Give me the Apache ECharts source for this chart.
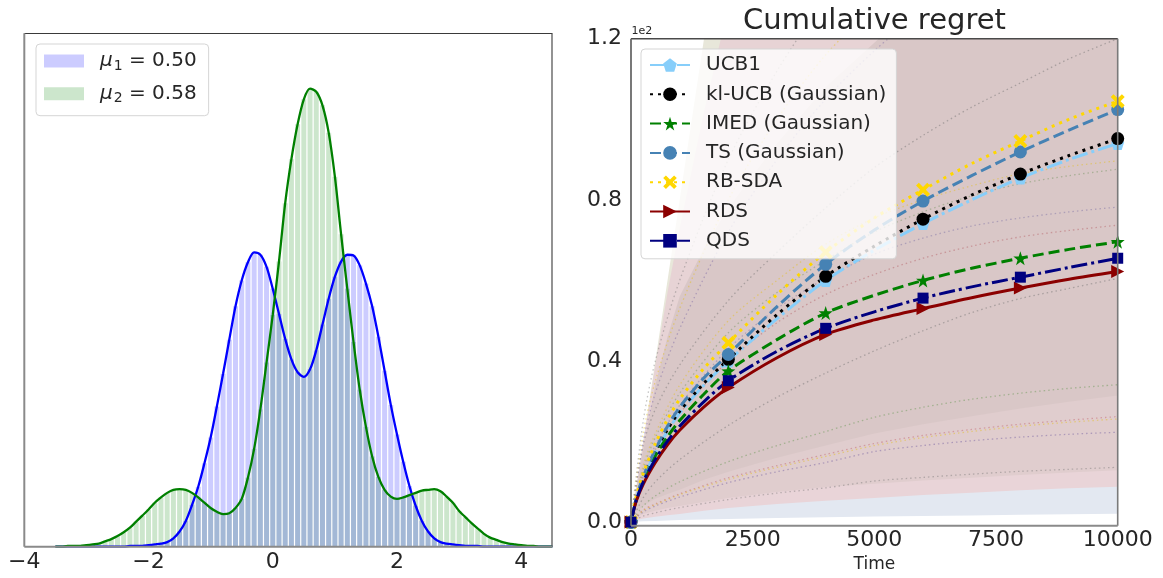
<!DOCTYPE html>
<html><head><meta charset="utf-8">
<script src="https://cdn.jsdelivr.net/npm/echarts@6/dist/echarts.min.js"></script>
<style>html,body{margin:0;padding:0;background:#fff}#c{width:1163px;height:578px}</style>
</head><body><div id="c"></div>
<script>
// ---------- Left panel: densities (histogram + KDE) ----------
const kdeX = [-3.5,-3.4,-3.3,-3.2,-3.1,-3.0,-2.9,-2.8,-2.7,-2.6,
  -2.5,-2.4,-2.3,-2.2,-2.1,-2.0,-1.9,-1.8,-1.7,-1.6,
  -1.5,-1.4,-1.3,-1.2,-1.1,-1.0,-0.9,-0.8,-0.7,-0.6,
  -0.5,-0.4,-0.3,-0.2,-0.1,0.0,0.1,0.2,0.3,0.4,
  0.5,0.6,0.7,0.8,0.9,1.0,1.1,1.2,1.3,1.4,
  1.5,1.6,1.7,1.8,1.9,2.0,2.1,2.2,2.3,2.4,
  2.5,2.6,2.7,2.8,2.9,3.0,3.1,3.2,3.3,3.4,
  3.5,3.6,3.7,3.8,3.9,4.0,4.1,4.2,4.3,4.4,4.5];
const densityArm1 = [0,0,0,0,0,0,0,0,0,0,
  0,0,0.001,0.001,0.001,0.002,0.003,0.004,0.006,0.011,
  0.020,0.034,0.055,0.079,0.110,0.144,0.185,0.228,0.273,0.317,
  0.351,0.375,0.388,0.385,0.369,0.340,0.307,0.274,0.247,0.230,
  0.224,0.234,0.259,0.293,0.327,0.356,0.376,0.385,0.384,0.371,
  0.347,0.317,0.277,0.232,0.187,0.148,0.112,0.080,0.054,0.034,
  0.020,0.011,0.006,0.004,0.003,0.002,0.001,0.001,0.001,0,
  0,0,0,0,0,0,0,0,0,0,0];
const densityArm2 = [0,0,0.001,0.001,0.001,0.002,0.003,0.004,0.007,0.010,
  0.014,0.019,0.025,0.033,0.041,0.049,0.058,0.065,0.071,0.075,
  0.076,0.075,0.071,0.065,0.058,0.051,0.046,0.043,0.044,0.051,
  0.063,0.091,0.129,0.181,0.243,0.306,0.376,0.453,0.511,0.557,
  0.590,0.604,0.600,0.582,0.546,0.488,0.412,0.340,0.270,0.207,
  0.158,0.119,0.092,0.075,0.066,0.063,0.065,0.068,0.071,0.074,
  0.075,0.076,0.073,0.066,0.058,0.047,0.039,0.031,0.024,0.017,
  0.012,0.009,0.006,0.004,0.003,0.002,0.001,0.001,0,0,0];
const leftTicks = [-4,-2,0,2,4];

// ---------- Right panel: cumulative regret (raw units, axis shows x1e2) ----------
const T = [0,100,250,500,750,1000,1500,2000,3000,4000,5000,6000,7000,8000,9000,10000];
const markerT = [0,2000,4000,6000,8000,10000];
const ucb1  = [0,5.4,10.8,17.2,22.6,27.0,34.0,40.0,50.5,60.0,67.5,74.1,80.0,85.4,90.0,94.0];
const klucb = [0,5.5,11.0,17.5,23.0,27.5,34.5,40.4,51.5,61.0,68.5,75.2,81.2,86.4,91.0,95.2];
const imed  = [0,5.2,10.3,16.4,21.2,25.2,31.8,37.5,45.3,51.9,56.3,60.0,63.0,65.5,67.7,69.6];
const ts    = [0,5.6,11.2,18.0,23.8,28.5,35.8,41.6,53.5,64.0,72.5,79.7,86.0,91.9,97.3,102.4];
const rbsda = [0,6.0,12.0,19.5,25.5,30.5,38.2,44.5,56.5,67.0,75.5,82.5,89.0,94.6,100.0,104.5];
const rds   = [0,4.9,9.4,14.8,19.2,22.8,28.6,33.4,40.8,46.6,50.2,53.0,55.7,58.1,60.3,62.2];
const qds   = [0,5.1,9.9,15.6,20.1,23.8,29.9,35.1,42.4,48.1,52.2,55.6,58.4,60.8,63.2,65.5];

// shaded region boundaries (bottom to top), same time grid T
const bandB0 = [0,0.1,0.2,0.3,0.4,0.5,0.65,0.8,1.0,1.2,1.4,1.5,1.65,1.8,1.95,2.1];
const bandB1 = [0,0.5,0.9,1.3,1.7,2.0,2.8,3.5,4.5,5.3,6.0,6.7,7.3,7.9,8.4,8.8];
const bandB2 = [0,1.2,2.0,2.8,3.5,4.0,5.0,6.0,7.5,8.7,9.5,10.3,11.0,11.7,12.3,12.9];
const bandB3 = [0,2.5,4.0,5.8,7.0,8.0,10.5,12.5,16.0,19.0,22.0,24.3,26.3,28.2,29.9,31.4];
const bandB4 = [0,7,18,34,46,56,68,78,94,108,119,130,140,150,160,170];
const bandB5 = [0,7.8,19.5,39,57,73,102,128,170,210,250,290,330,370,410,450];
const bandB6 = [0,8,20,40,60,80,120,160,240,320,400,480,560,640,720,800];

// faint dotted quantile lines
const T2 = [0,250,500,1000,2000,3000,4000,5000,6000,7000,8000,9000,10000];
const qGray1   = [0,19,28,39,55,67,78,88,96,103,109,115,120];
const qGold1   = [0,14,22,34,50,60,69,75.5,80,83.5,86.5,88.3,89.7];
const qOlive1  = [0,13,21,32,47,57,65,72,77,81,84,86,87.6];
const qPurple1 = [0,12,19,29,43,53,60.5,66.5,70.5,73.5,75.5,77,78.2];
const qRed1    = [0,11,18,27,40,49.5,56.5,61.5,65.5,68.5,70.8,72.4,73.7];
const qGray2   = [0,6,10,15.5,24,31,37,42.5,47.5,52,55.5,58,60.5];
const qOlive2  = [0,4,6.5,10,15,19,22.5,26,28.5,30.5,32,33.2,34.1];
const qRed2    = [0,3,4.5,7,11,14,16.8,19.5,21.5,23,24.3,25.3,26.2];
const qGold2   = [0,2.8,4.3,6.8,10.6,13.6,16.3,19,21,22.5,23.8,24.8,25.6];
const qPurple2 = [0,2.5,4,6.2,9.8,12.5,14.8,17.5,19,20.2,21.1,21.8,22.3];
const qGray3   = [0,1.5,2.3,3.6,5.6,7.2,8.5,10.2,11.1,11.9,12.6,13.1,13.6];
const qSteepGray   = [0,25,40,60,90,112,130,145,158,170,180,190,200];
const qSteepGold   = [0,22,35,53,80,100,116,128,140,150,158,166,173];
const qSteepPurple = [0,20,32,48,72,90,105,117,127,136,144,151,158];

// ---------- build ----------
const FONT = 'DejaVu Sans';
const TXT = '#262626';
const chart = echarts.init(document.getElementById('c'), null, {renderer: 'canvas'});

const SYM = {
  pentagon: 'path://M50,0 L97.6,34.5 L79.4,90.5 L20.6,90.5 L2.4,34.5 Z',
  star: 'path://M50,0 L61.8,35.1 L98.9,35.5 L69.1,57.6 L80.2,93 L50,71.5 L19.8,93 L30.9,57.6 L1.1,35.5 L38.2,35.1 Z',
  xfill: 'path://M20,0 L50,30 L80,0 L100,20 L70,50 L100,80 L80,100 L50,70 L20,100 L0,80 L30,50 L0,20 Z',
  tri: 'path://M0,0 L100,50 L0,100 Z'
};

const series = [];
// left: histogram + kde
function hist(name, vals, color) {
  return {type: 'bar', name, xAxisIndex: 0, yAxisIndex: 0, barWidth: 5, barGap: '-100%',
    itemStyle: {color}, data: kdeX.map((x, i) => [x, vals[i]]), silent: true};
}
function kde(vals, color) {
  return {type: 'line', xAxisIndex: 0, yAxisIndex: 0, smooth: 0.3, symbol: 'none',
    lineStyle: {color, width: 2.3}, data: kdeX.map((x, i) => [x, vals[i]]), silent: true};
}
series.push(hist('mu2', densityArm2, 'rgba(0,128,0,0.2)'));
series.push(hist('mu1', densityArm1, 'rgba(0,0,255,0.2)'));
series.push(kde(densityArm1, '#0000ff'));
series.push(kde(densityArm2, '#008000'));

// right: shaded regions, each filled from 0 up to its top boundary, outermost first
const regionTops = [bandB6, bandB5, bandB4, bandB3, bandB2, bandB1, bandB0];
const regionColors = ['#e8e7da', '#e7d3d5', '#d9c7c7', '#e0cdce', '#e9d4d8', '#e3e8f1', '#ffffff'];
regionTops.forEach((b, k) => {
  series.push({type: 'line', xAxisIndex: 1, yAxisIndex: 1, symbol: 'none', z: 1 + k,
    silent: true, lineStyle: {width: 0, opacity: 0},
    areaStyle: {color: regionColors[k], opacity: 1, origin: 'start'},
    data: T.map((t, i) => [t, b[i]])});
});

// faint dotted lines
const faint = [
  [qGray1, 'rgba(110,110,110,0.45)'], [qGold1, 'rgba(230,190,0,0.4)'], [qOlive1, 'rgba(100,140,80,0.4)'],
  [qPurple1, 'rgba(110,100,160,0.4)'], [qRed1, 'rgba(170,60,70,0.35)'], [qGray2, 'rgba(110,110,110,0.45)'],
  [qOlive2, 'rgba(100,150,80,0.45)'], [qRed2, 'rgba(190,80,90,0.4)'], [qGold2, 'rgba(230,190,0,0.4)'],
  [qPurple2, 'rgba(110,90,160,0.45)'], [qGray3, 'rgba(110,110,110,0.4)'],
  [qSteepGray, 'rgba(110,110,110,0.4)'], [qSteepGold, 'rgba(230,190,0,0.4)'], [qSteepPurple, 'rgba(110,90,160,0.4)']
];
faint.forEach(([vals, color]) => {
  series.push({type: 'line', xAxisIndex: 1, yAxisIndex: 1, symbol: 'none', smooth: 0.3, z: 10, silent: true,
    lineStyle: {color, width: 1.3, type: [1.5, 3]}, data: T2.map((t, i) => [t, vals[i]])});
});

// main lines
function main(name, vals, color, dash, symbol, size) {
  return {type: 'line', name, xAxisIndex: 1, yAxisIndex: 1, z: 11, smooth: 0.3,
    symbol, symbolSize: size, showSymbol: true, showAllSymbol: true,
    itemStyle: {color, opacity: 1}, lineStyle: {color, width: 3, type: dash},
    data: T.map((t, i) => markerT.includes(t) ? {value: [t, vals[i]]} : {value: [t, vals[i]], symbol: 'none'})};
}
series.push(main('UCB1', ucb1, '#87cefa', [16, 4, 3, 4], SYM.pentagon, 13));
series.push(main('kl-UCB (Gaussian)', klucb, '#000000', [3, 5], 'circle', 13));
series.push(main('IMED (Gaussian)', imed, '#008000', [11, 5], SYM.star, 14));
series.push(main('TS (Gaussian)', ts, '#4682b4', [11, 5], 'circle', 13));
series.push(main('RB-SDA', rbsda, '#ffd700', [3, 5], SYM.xfill, 14));
series.push(main('RDS', rds, '#8b0000', 'solid', SYM.tri, 13));
series.push(main('QDS', qds, '#000080', [16, 4, 3, 4], 'rect', 11));

const axisLabelStyle = {fontFamily: FONT, fontSize: 22, color: TXT};

function spine(x1, y1, x2, y2, color, w) {
  return {type: 'line', z: 50, silent: true, shape: {x1, y1, x2, y2}, style: {stroke: color, lineWidth: w}};
}

const option = {
  animation: false,
  backgroundColor: '#ffffff',
  textStyle: {fontFamily: FONT},
  grid: [
    {left: 24.3, top: 33.3, width: 528, height: 513.4},
    {left: 631, top: 38.7, width: 486.7, height: 487}
  ],
  xAxis: [
    {type: 'value', gridIndex: 0, min: -4, max: 4.5, interval: 2,
      axisLine: {show: false}, axisTick: {show: false}, splitLine: {show: false},
      axisLabel: Object.assign({margin: 5, showMaxLabel: false,
        formatter: v => leftTicks.includes(v) ? String(v).replace('-', '\u2212') : ''}, axisLabelStyle)},
    {type: 'value', gridIndex: 1, min: 0, max: 10000, interval: 2500,
      axisLine: {show: false}, axisTick: {show: false}, splitLine: {show: false},
      name: 'Time', nameLocation: 'middle', nameGap: 32,
      nameTextStyle: {fontFamily: FONT, fontSize: 17, color: TXT},
      axisLabel: Object.assign({margin: 7, formatter: v => String(v)}, axisLabelStyle)}
  ],
  yAxis: [
    {type: 'value', gridIndex: 0, min: 0, max: 0.677, show: false, splitLine: {show: false}},
    {type: 'value', gridIndex: 1, min: 0, max: 120, interval: 40,
      axisLine: {show: false}, axisTick: {show: false}, splitLine: {show: false},
      axisLabel: Object.assign({margin: 9, formatter: v => (v / 100).toFixed(1)}, axisLabelStyle)}
  ],
  legend: [
    {data: ['mu1', 'mu2'], orient: 'vertical', left: 36, top: 44, itemWidth: 40, itemHeight: 13,
      itemGap: 10.7, padding: [7, 12, 10, 8], selectedMode: false, icon: 'rect', z: 20,
      backgroundColor: 'rgba(255,255,255,0.85)', borderColor: '#d5d5d5', borderWidth: 1, borderRadius: 4,
      formatter: n => n === 'mu1' ? '{g|}{m|\u03bc}{s|1}{t| = 0.50}' : '{g|}{m|\u03bc}{s|2}{t| = 0.58}',
      textStyle: {fontFamily: FONT, fontSize: 20, color: TXT, lineHeight: 20,
        rich: {g: {width: 11}, m: {fontFamily: FONT, fontSize: 20, fontStyle: 'italic', color: TXT},
          s: {fontFamily: FONT, fontSize: 14, color: TXT, padding: [10, 0, 0, 1]},
          t: {fontFamily: FONT, fontSize: 20, color: TXT}}}},
    {data: ['UCB1', 'kl-UCB (Gaussian)', 'IMED (Gaussian)', 'TS (Gaussian)', 'RB-SDA', 'RDS', 'QDS'],
      orient: 'vertical', left: 641, top: 49, itemWidth: 40, itemHeight: 17, itemGap: 9.3, z: 20,
      padding: [6, 10, 8, 8], selectedMode: false,
      backgroundColor: 'rgba(255,255,255,0.8)', borderColor: '#d5d5d5', borderWidth: 1, borderRadius: 4,
      formatter: n => '{g|}' + n,
      textStyle: {fontFamily: FONT, fontSize: 20, color: TXT, lineHeight: 20, rich: {g: {width: 11}}}}
  ],
  graphic: [
    {type: 'text', x: 874.5, y: 21.5, z: 50, silent: true,
      style: {text: 'Cumulative regret', font: '29px "DejaVu Sans"', fill: TXT, textAlign: 'center', textVerticalAlign: 'middle'}},
    {type: 'text', x: 631.5, y: 31.5, z: 50, silent: true,
      style: {text: '1e2', font: '11px "DejaVu Sans"', fill: TXT, textAlign: 'left', textVerticalAlign: 'middle'}},
    spine(24.3, 33.5, 552.3, 33.5, '#3a3a3a', 1.2),
    spine(552, 33.3, 552, 546.7, '#4a4a4a', 1.2),
    spine(24.3, 33.3, 24.3, 546.7, '#8a8a8a', 2),
    spine(24.3, 546.7, 552.3, 546.7, '#8a8a8a', 2),
    spine(631, 38.7, 1117.7, 38.7, '#4a4a4a', 1.4),
    spine(1117.7, 38.7, 1117.7, 525.7, '#7a7a7a', 1.6),
    spine(631, 38.7, 631, 525.7, '#6a6a6a', 1.8),
    spine(631, 525.7, 1117.7, 525.7, '#8a8a8a', 2)
  ],
  series
};
chart.setOption(option);
</script>
</body></html>
